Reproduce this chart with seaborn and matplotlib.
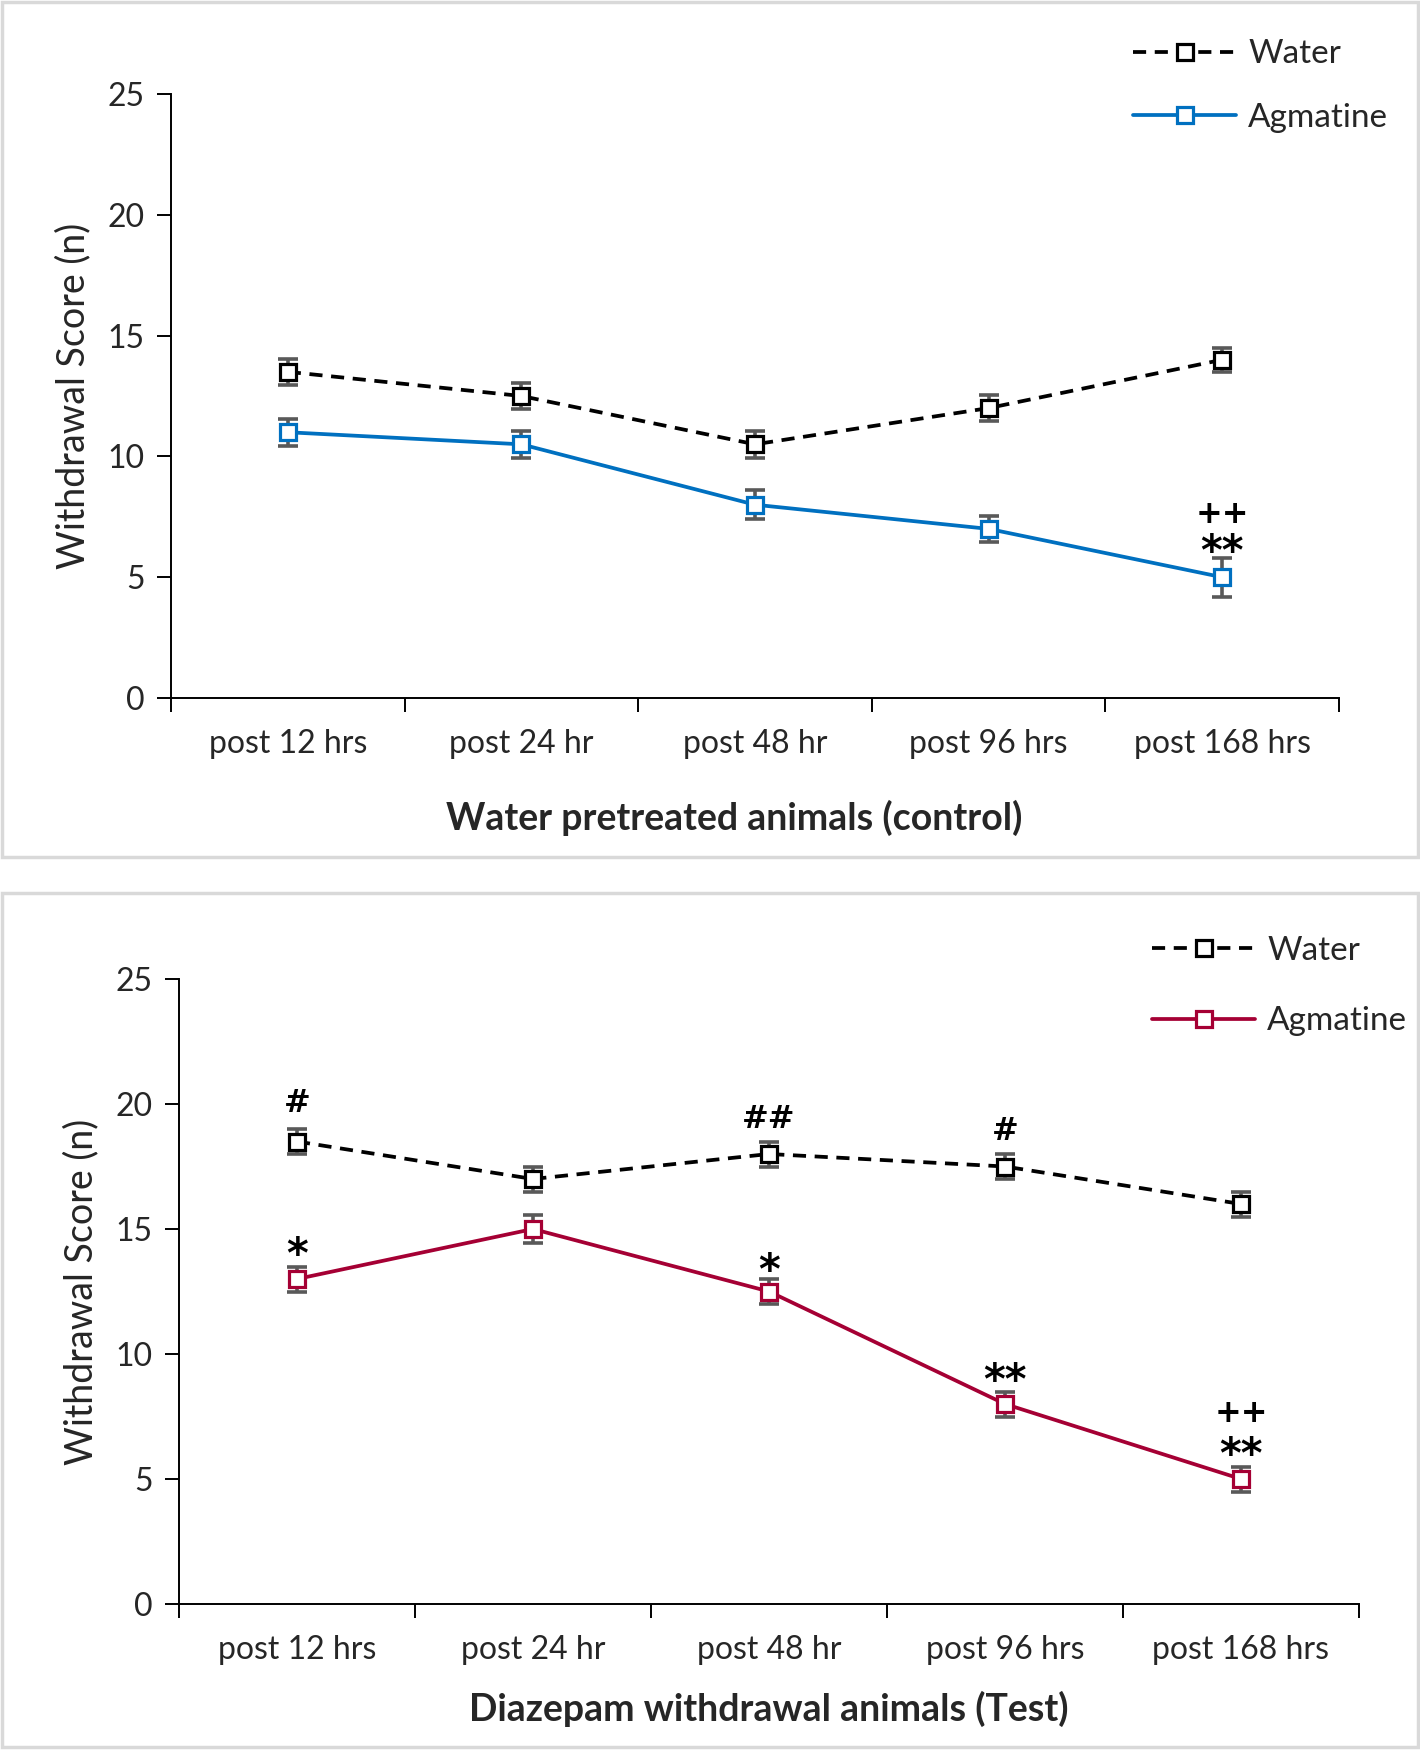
"""
Withdrawal score over time, water vs agmatine, two panels (control / test).
"""
import numpy as np
import pandas as pd
import matplotlib
matplotlib.use('Agg')
import matplotlib.pyplot as plt
from matplotlib.patches import Rectangle
from matplotlib.lines import Line2D
import seaborn as sns

# ---- data ----
time_labels = ['post 12 hrs', 'post 24 hr', 'post 48 hr', 'post 96 hrs', 'post 168 hrs']

ctrl_water = [13.5, 12.5, 10.5, 12.0, 14.0]
ctrl_water_err = [0.55, 0.55, 0.55, 0.55, 0.5]
ctrl_agm = [11.0, 10.5, 8.0, 7.0, 5.0]
ctrl_agm_err = [0.55, 0.55, 0.6, 0.55, 0.8]

test_water = [18.5, 17.0, 18.0, 17.5, 16.0]
test_water_err = [0.5, 0.5, 0.5, 0.5, 0.5]
test_agm = [13.0, 15.0, 12.5, 8.0, 5.0]
test_agm_err = [0.5, 0.55, 0.5, 0.5, 0.5]

# annotations: (time index, y position, text)
ctrl_marks = [(4, 7.6, '++'), (4, 6.0, '**')]
test_marks = [(0, 20.0, '#'), (2, 19.4, '##'), (3, 18.9, '#'),
              (0, 13.9, '*'), (2, 13.3, '*'), (3, 8.9, '**'),
              (4, 7.6, '++'), (4, 5.9, '**')]

BLUE = '#0070C0'
RED = '#A50034'
ERR = '#595959'
FS = 23
LW = 2.7

sns.set_theme(style='white')
plt.rcParams['font.family'] = ['Lato', 'DejaVu Sans']


def make_frame(water, agm):
    return pd.DataFrame({
        'pos': list(range(len(time_labels))) * 2,
        'score': water + agm,
        'group': ['Water'] * len(water) + ['Agmatine'] * len(agm),
    })


def draw_panel(ax, water, water_err, agm, agm_err, agm_color, xlabel, marks,
               label_pad, label_x, leg_anchor, leg_spacing):
    df = make_frame(water, agm)
    palette = {'Water': 'black', 'Agmatine': agm_color}
    sns.lineplot(data=df, x='pos', y='score', hue='group', style='group',
                 palette=palette, dashes={'Water': (3.5, 2.3), 'Agmatine': ''},
                 markers={'Water': 's', 'Agmatine': 's'}, markersize=12,
                 linewidth=LW, legend=False, sort=False, ax=ax, zorder=3)
    for line in ax.lines:
        line.set_markerfacecolor('white')
        line.set_markeredgecolor(line.get_color())
        line.set_markeredgewidth(2.3)

    x = np.arange(len(time_labels))
    for vals, errs in [(water, water_err), (agm, agm_err)]:
        ax.errorbar(x, vals, yerr=errs, fmt='none', ecolor=ERR, elinewidth=2.6,
                    capsize=7, capthick=2.6, zorder=2)

    for i, yv, txt in marks:
        size = FS + 7 if '*' in txt else FS
        ax.text(i, yv, txt, ha='center', va='center', fontsize=size,
                fontweight='bold', color='black', family='DejaVu Sans')

    ax.set_xlim(-0.5, len(time_labels) - 0.5)
    ax.set_ylim(0, 25)
    ax.set_yticks(range(0, 26, 5))
    ax.set_xticks(np.arange(-0.5, len(time_labels), 1.0))
    ax.set_xticklabels([])
    ax.set_xticks(x, minor=True)
    ax.set_xticklabels(time_labels, minor=True)
    ax.tick_params(axis='x', which='minor', length=0, pad=label_pad[0],
                   labelsize=FS)
    ax.tick_params(axis='x', which='major', length=10, width=1.4,
                   direction='out', color='black', bottom=True)
    ax.tick_params(axis='y', length=10, width=1.4, direction='out',
                   color='black', left=True, labelsize=FS, pad=9)
    for side in ['top', 'right']:
        ax.spines[side].set_visible(False)
    for side in ['left', 'bottom']:
        ax.spines[side].set_color('black')
        ax.spines[side].set_linewidth(1.4)
    ax.set_xlabel(xlabel, fontsize=FS + 4, fontweight='bold', labelpad=label_pad[1])
    ax.xaxis.label.set_x(label_x)
    ax.set_ylabel('Withdrawal Score (n)', fontsize=FS + 4, labelpad=12)

    handles = [
        Line2D([], [], color='black', linestyle=(0, (3.5, 2.3)), linewidth=LW,
               marker='s', markersize=12, markerfacecolor='white',
               markeredgecolor='black', markeredgewidth=2.3),
        Line2D([], [], color=agm_color, linewidth=LW, marker='s',
               markersize=12, markerfacecolor='white',
               markeredgecolor=agm_color, markeredgewidth=2.3),
    ]
    ax.figure.legend(handles, ['Water', 'Agmatine'], loc='center left',
                     bbox_to_anchor=leg_anchor, frameon=False, fontsize=FS + 1,
                     handlelength=3.1, handletextpad=0.35, borderpad=0,
                     borderaxespad=0, labelspacing=leg_spacing)


W, H = 1420, 1750
fig = plt.figure(figsize=(W / 100, H / 100), dpi=100)

# light grey frames around each panel
for (y0, y1) in [(2, 857), (893, 1747)]:
    fig.add_artist(Rectangle((2 / W, 1 - y1 / H), (W - 4) / W, (y1 - y0) / H,
                             transform=fig.transFigure, fill=False,
                             edgecolor='#D9D9D9', linewidth=2.5))

ax1 = fig.add_axes([171 / W, 1 - 698 / H, (1339 - 171) / W, (698 - 94) / H])
ax2 = fig.add_axes([179 / W, 1 - 1604 / H, (1359 - 179) / W, (1604 - 979) / H])

draw_panel(ax1, ctrl_water, ctrl_water_err, ctrl_agm, ctrl_agm_err, BLUE,
           'Water pretreated animals (control)', ctrl_marks,
           label_pad=(22, 30), label_x=0.482,
           leg_anchor=(1133 / W, 1 - 86 / H), leg_spacing=1.0)
draw_panel(ax2, test_water, test_water_err, test_agm, test_agm_err, RED,
           'Diazepam withdrawal animals (Test)', test_marks,
           label_pad=(22, 19), label_x=0.5,
           leg_anchor=(1152 / W, 1 - 986 / H), leg_spacing=1.22)

fig.savefig('out.png', dpi=100)
